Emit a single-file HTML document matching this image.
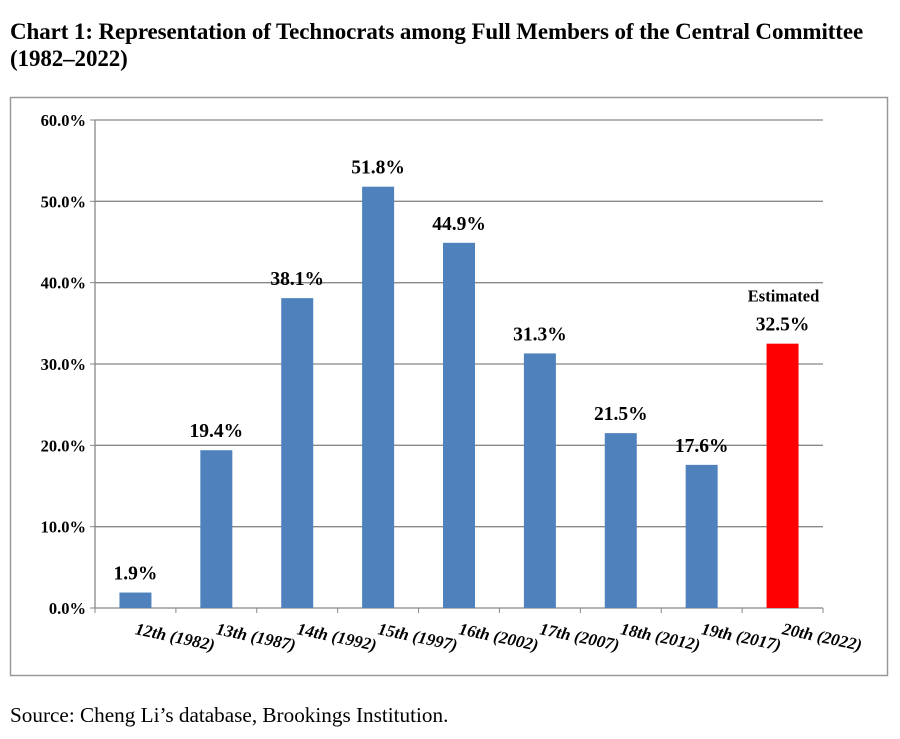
<!DOCTYPE html>
<html><head><meta charset="utf-8"><style>
body{margin:0;background:#fff;width:900px;height:739px;overflow:hidden;font-family:"Liberation Serif",serif;}
.t{position:absolute;left:10px;top:18px;font-weight:bold;font-size:23px;line-height:27px;letter-spacing:-0.1px;}
.s{position:absolute;left:10px;top:703px;font-size:21.2px;}
</style></head><body>
<div class="t">Chart 1: Representation of Technocrats among Full Members of the Central Committee<br>(1982–2022)</div>
<svg width="900" height="739" style="position:absolute;left:0;top:0">
<rect x="10.5" y="97.5" width="877" height="578" fill="none" stroke="#999" stroke-width="1.5"/>
<g id="g"></g>
</svg>
<div class="s">Source: Cheng Li’s database, Brookings Institution.</div>
<script>
const categories=["12th (1982)","13th (1987)","14th (1992)","15th (1997)","16th (2002)","17th (2007)","18th (2012)","19th (2017)","20th (2022)"];
const values=[1.9,19.4,38.1,51.8,44.9,31.3,21.5,17.6,32.5];
const valueLabels=["1.9%","19.4%","38.1%","51.8%","44.9%","31.3%","21.5%","17.6%","32.5%"];
const ticks=[0,10,20,30,40,50,60];
const tickLabels=["0.0%","10.0%","20.0%","30.0%","40.0%","50.0%","60.0%"];
const L=95,R=823,T=120,B=608,bw=(R-L)/categories.length;
const y=v=>B-(v/60)*(B-T);
const x=i=>L+bw*(i+0.5);
const ns="http://www.w3.org/2000/svg",g=document.getElementById('g');
function mk(tag,a,txt){const e=document.createElementNS(ns,tag);for(const k in a)e.setAttribute(k,a[k]);if(txt!=null)e.textContent=txt;g.appendChild(e);return e;}
ticks.forEach((t,i)=>{
 const l=mk('line',{x1:L,x2:R,y1:y(t),y2:y(t),stroke:'#888','stroke-width':1.3});
 
 
 const tx=mk('text',{x:L-9,y:y(t)+6,'text-anchor':'end','font-size':16.5,'font-weight':'bold'},tickLabels[i]);
 
 
 const tk=mk('line',{x1:L-5,x2:L,y1:y(t),y2:y(t),stroke:'#888'});
 
 
});
const ax=mk('line',{x1:L,x2:L,y1:T,y2:B,stroke:'#888','stroke-width':1.3});


for(let i=0;i<=categories.length;i++){
 const tk=mk('line',{x1:L+bw*i,x2:L+bw*i,y1:B,y2:B+5,stroke:'#888'});
 
 
}
values.forEach((v,i)=>{
 const last=i===values.length-1;
 const r=mk('rect',{x:x(i)-16,y:y(v),width:32,height:B-y(v),fill:last?'#ff0000':'#4f81bd'});
 
 
 const t=mk('text',{x:x(i),y:y(v)-13,'text-anchor':'middle','font-size':19.5,'font-weight':'bold'},valueLabels[i]);
 
 
 const c=mk('text',{x:0,y:0,'font-size':17,'font-weight':'bold','font-style':'italic',transform:`translate(${x(i)-1},${B+26}) rotate(12)`},categories[i]);
 
 
});
const e=mk('text',{x:x(8)+1,y:y(values[8])-42,'text-anchor':'middle','font-size':16.5,'font-weight':'bold'},'Estimated');


</script>
</body></html>
